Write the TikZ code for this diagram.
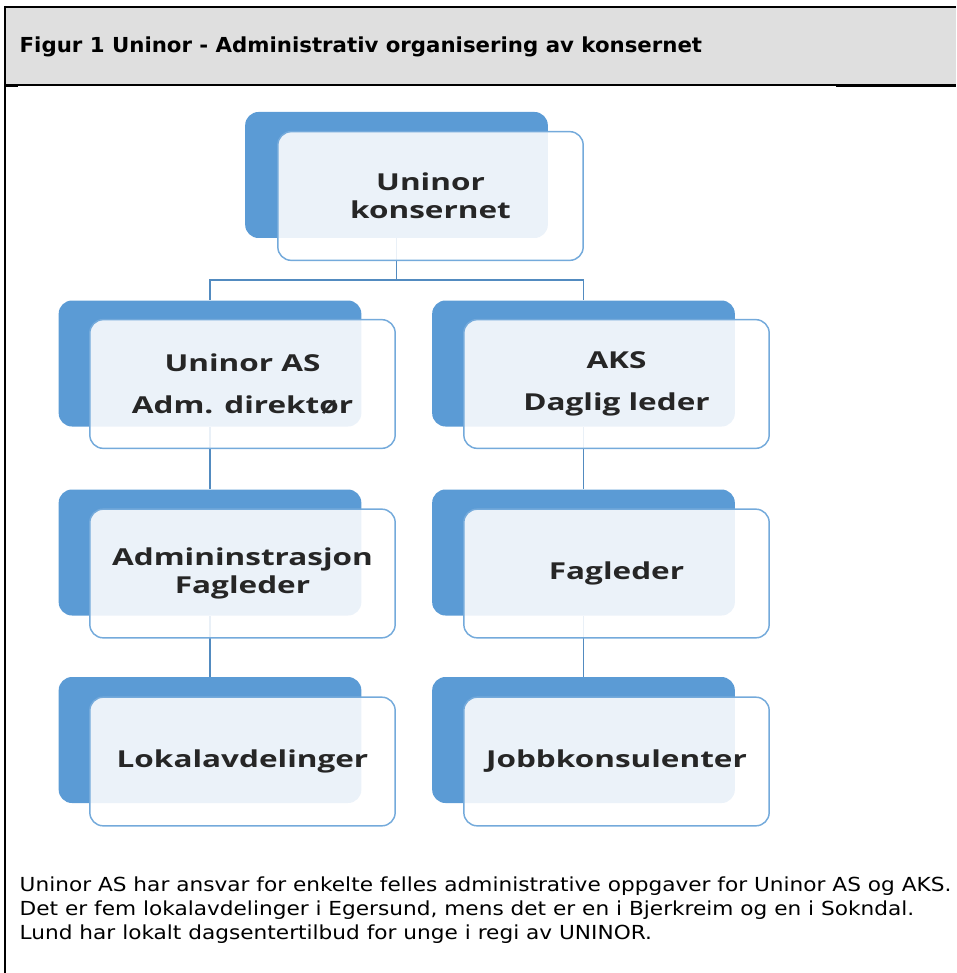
\documentclass[tikz,border=0pt]{standalone}
\usepackage{fontspec}
\setmainfont{DejaVu Sans}
\newfontfamily\boxfont[FakeStretch=1.35]{Open Sans}
\newfontfamily\headfont[FakeStretch=1.03]{DejaVu Sans}
\newfontfamily\notefont[FakeStretch=1.12]{DejaVu Sans}
\usepackage{tikz}
\definecolor{orgblue}{HTML}{5B9BD5}
\definecolor{headgray}{HTML}{DFDFDF}

\begin{document}
\begin{tikzpicture}[x=0.75pt,y=-0.75pt,
	back/.style={rectangle,rounded corners=10pt,fill=orgblue,minimum width=227pt,minimum height=94.5pt,inner sep=0pt},
	front/.style={rectangle,rounded corners=10pt,draw=orgblue!85,line width=1.1pt,fill=white,fill opacity=0.88,text opacity=1,minimum width=229pt,minimum height=96.5pt,inner sep=0pt,align=center,font=\boxfont\bfseries\fontsize{17.5}{21}\selectfont,text=black!85},
	conn/.style={draw=orgblue!90!black,line width=1.2pt}]
	\useasboundingbox (0,0) rectangle (956,973);

	% header
	\fill[headgray] (5,8) rectangle (956,85);
	\draw[line width=1.6pt] (5,7) -- (956,7);
	\draw[line width=1.8pt] (5,6) -- (5,973);
	\draw[line width=0.8pt] (5,85) -- (956,85);
	\draw[line width=2pt] (836,86) -- (956,86);
	\draw[line width=2pt] (5,86) -- (18,86);
	\node[anchor=west,font=\headfont\bfseries\fontsize{15.5}{18}\selectfont] (title) at (15,47) {Figur 1 Uninor - Administrativ organisering av konsernet};

	% back boxes
	\node[back] (konsernB) at (396.5,175)   {};
	\node[back] (uninorB)  at (210,363.5)   {};
	\node[back] (aksB)     at (583.5,363.5) {};
	\node[back] (adminB)   at (210,552.5)   {};
	\node[back] (fagB)     at (583.5,552.5) {};
	\node[back] (lokalB)   at (210,740)     {};
	\node[back] (jobbB)    at (583.5,740)   {};

	% connectors
	\coordinate (split) at (396.5,280);
	\draw[conn] (konsernB.south) -- (split) -| (uninorB.north);
	\draw[conn] (split) -| (aksB.north);
	\draw[conn] (uninorB.south) -- (adminB.north);
	\draw[conn] (adminB.south) -- (lokalB.north);
	\draw[conn] (aksB.south) -- (fagB.north);
	\draw[conn] (fagB.south) -- (jobbB.north);

	% front boxes
	\node[front] (konsern) at (430.5,196) {Uninor\\konsernet};
	\node[front] (uninor)  at (242.5,384)   {Uninor AS\\[10pt]Adm. direktør};
	\node[front] (aks)     at (616.5,384)   {AKS\\[10pt]Daglig leder};
	\node[front] (admin)   at (242.5,573.5) {Admininstrasjon\\Fagleder};
	\node[front] (fag)     at (616.5,573.5) {Fagleder};
	\node[front] (lokal)   at (242.5,761.5) {Lokalavdelinger};
	\node[front] (jobb)    at (616.5,761.5) {Jobbkonsulenter};

	% note below
	\node[anchor=north west,align=left,font=\notefont\fontsize{14.5}{18}\selectfont] (note) at (15,872)
		{Uninor AS har ansvar for enkelte felles administrative oppgaver for Uninor AS og AKS.\\
		 Det er fem lokalavdelinger i Egersund, mens det er en i Bjerkreim og en i Sokndal.\\
		 Lund har lokalt dagsentertilbud for unge i regi av UNINOR.};
\end{tikzpicture}
\end{document}
